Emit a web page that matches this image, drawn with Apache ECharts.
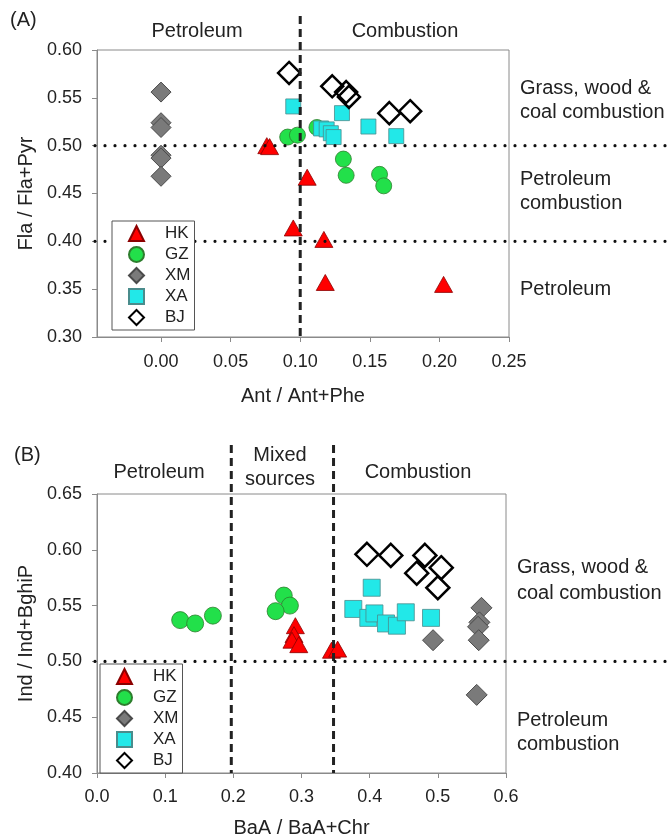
<!DOCTYPE html>
<html><head><meta charset="utf-8">
<script src="https://cdn.jsdelivr.net/npm/echarts@6/dist/echarts.min.js"></script>
<style>html,body{margin:0;padding:0;background:#fff}#c{width:667px;height:839px}</style>
</head><body><div id="c"></div>
<script>
const seriesNames = ['HK','GZ','XM','XA','BJ'];
// Panel A : Ant/Ant+Phe vs Fla/Fla+Pyr
const aHK = [[0.076,0.500],[0.078,0.499],[0.105,0.467],[0.095,0.414],[0.117,0.402],[0.118,0.357],[0.203,0.355]];
const aGZ = [[0.091,0.509],[0.098,0.511],[0.112,0.519],[0.131,0.486],[0.133,0.469],[0.157,0.470],[0.160,0.458]];
const aXM = [[0,0.556],[0,0.524],[0,0.519],[0,0.490],[0,0.487],[0,0.468]];
const aXA = [[0.095,0.541],[0.115,0.518],[0.119,0.517],[0.122,0.513],[0.124,0.509],[0.130,0.534],[0.149,0.520],[0.169,0.510]];
const aBJ = [[0.092,0.576],[0.123,0.562],[0.133,0.556],[0.135,0.551],[0.164,0.534],[0.179,0.536]];
// Panel B : BaA/BaA+Chr vs Ind/Ind+BghiP
const bHK = [[0.291,0.532],[0.289,0.524],[0.286,0.519],[0.296,0.515],[0.344,0.510],[0.353,0.511]];
const bGZ = [[0.122,0.537],[0.144,0.534],[0.170,0.541],[0.274,0.559],[0.283,0.550],[0.262,0.545]];
const bXM = [[0.493,0.519],[0.564,0.548],[0.561,0.535],[0.559,0.531],[0.560,0.519],[0.557,0.470]];
const bXA = [[0.403,0.566],[0.376,0.547],[0.398,0.539],[0.407,0.543],[0.424,0.534],[0.440,0.532],[0.453,0.544],[0.490,0.539]];
const bBJ = [[0.396,0.596],[0.431,0.595],[0.481,0.595],[0.469,0.579],[0.505,0.584],[0.500,0.566]];
// thresholds
const aVLines = [0.10];
const aHLines = [0.50, 0.40];
const bVLines = [0.197, 0.347];
const bHLines = [0.50];
// tick labels
const aXTicks = [0, 0.05, 0.10, 0.15, 0.20, 0.25];

const FONT = 'Liberation Sans, Arial, sans-serif';
const styles = {
  HK: {symbol:'triangle', color:'#FF0000', borderColor:'#8B0000', borderWidth:0.8, sizeA:[18,16], sizeB:[18,16]},
  GZ: {symbol:'circle', color:'#22E04A', borderColor:'#2D7D2D', borderWidth:0.8, sizeA:16, sizeB:17},
  XM: {symbol:'diamond', color:'#7A7A7A', borderColor:'#4A4A4A', borderWidth:1, sizeA:20, sizeB:21},
  XA: {symbol:'rect', color:'#22E8E8', borderColor:'#4A8C8C', borderWidth:0.8, sizeA:15, sizeB:17},
  BJ: {symbol:'diamond', color:'rgba(255,255,255,0)', borderColor:'#000000', borderWidth:2.5, sizeA:22, sizeB:23}
};
const dataA = {HK:aHK, GZ:aGZ, XM:aXM, XA:aXA, BJ:aBJ};
const dataB = {HK:bHK, GZ:bGZ, XM:bXM, XA:bXA, BJ:bBJ};

const axisLineStyle = {color:'#8a8a8a', width:1};
const labelStyle = {color:'#222', fontSize:18, fontFamily:FONT};
const nameStyle = {color:'#222', fontSize:20, fontFamily:FONT};

function mkSeries(panel){
  const d = panel === 0 ? dataA : dataB;
  return seriesNames.map(n => ({
    type:'scatter', name:n, xAxisIndex:panel, yAxisIndex:panel,
    data:d[n], symbol:styles[n].symbol,
    symbolSize: panel === 0 ? styles[n].sizeA : styles[n].sizeB,
    itemStyle:{color:styles[n].color, borderColor:styles[n].borderColor, borderWidth:styles[n].borderWidth, opacity:1},
    emphasis:{disabled:true}, silent:true, animation:false
  }));
}
function mkLegend(left, top){
  return {
    orient:'vertical', left:left, top:top,
    data:seriesNames.map(n => ({name:n, icon:styles[n].symbol})),
    itemWidth:15, itemHeight:15, itemGap:4, symbolKeepAspect:true,
    padding:[4,4,4,16], borderColor:'#555', borderWidth:1, backgroundColor:'#fff',
    textStyle:{fontSize:17, fontFamily:FONT, color:'#222', padding:[0,0,0,16]},
    selectedMode:false, z:200
  };
}

const chart = echarts.init(document.getElementById('c'), null, {renderer:'canvas'});
const option = {
  animation:false,
  backgroundColor:'#fff',
  grid:[
    {left:97, top:50, width:412, height:287, show:true, borderColor:'#8a8a8a', borderWidth:1, backgroundColor:'transparent'},
    {left:97, top:494, width:409, height:287, show:true, borderColor:'#8a8a8a', borderWidth:1, backgroundColor:'transparent'}
  ],
  xAxis:[
    {gridIndex:0, type:'value', min:-0.046, max:0.25,
     name:'Ant / Ant+Phe', nameLocation:'middle', nameGap:49, nameTextStyle:nameStyle,
     axisLine:{show:true, onZero:false, lineStyle:axisLineStyle},
     axisTick:{show:true, inside:false, length:5, lineStyle:axisLineStyle, customValues:aXTicks},
     axisLabel:{margin:16, ...labelStyle, customValues:aXTicks, formatter:v=>v.toFixed(2)},
     splitLine:{show:false}},
    {gridIndex:1, type:'value', min:0, max:0.6, interval:0.1,
     name:'BaA / BaA+Chr', nameLocation:'middle', nameGap:45, nameTextStyle:nameStyle,
     axisLine:{show:true, onZero:false, lineStyle:axisLineStyle},
     axisTick:{show:true, inside:false, length:5, lineStyle:axisLineStyle},
     axisLabel:{margin:15, ...labelStyle, formatter:v=>v.toFixed(1)},
     splitLine:{show:false}}
  ],
  yAxis:[
    {gridIndex:0, type:'value', min:0.30, max:0.60, interval:0.05,
     name:'Fla / Fla+Pyr', nameLocation:'middle', nameGap:53, nameTextStyle:nameStyle,
     axisLine:{show:true, onZero:false, lineStyle:axisLineStyle},
     axisTick:{show:true, inside:false, length:5, lineStyle:axisLineStyle},
     axisLabel:{margin:15, ...labelStyle, formatter:v=>v.toFixed(2)},
     splitLine:{show:false}},
    {gridIndex:1, type:'value', min:0.40, max:0.65, interval:0.05,
     name:'Ind / Ind+BghiP', nameLocation:'middle', nameGap:53, nameTextStyle:nameStyle,
     axisLine:{show:true, onZero:false, lineStyle:axisLineStyle},
     axisTick:{show:true, inside:false, length:5, lineStyle:axisLineStyle},
     axisLabel:{margin:15, ...labelStyle, formatter:v=>v.toFixed(2)},
     splitLine:{show:false}}
  ],
  legend:[mkLegend(112,221), mkLegend(100,664)],
  series:[...mkSeries(0), ...mkSeries(1)]
};
chart.setOption(option);

// reference lines and annotations, positioned through the axes
const g = [];
const dashStyle = {stroke:'#222', lineWidth:3, lineDash:[8,5]};
const dotStyle = {stroke:'#111', lineWidth:3.2, lineDash:[0,10], lineCap:'round'};
const aBottom = chart.convertToPixel({yAxisIndex:0}, 0.30);
const bBottom = chart.convertToPixel({yAxisIndex:1}, 0.40);
aVLines.forEach(v => {
  const x = chart.convertToPixel({xAxisIndex:0}, v);
  g.push({type:'line', z:100, shape:{x1:x, y1:16, x2:x, y2:aBottom}, style:dashStyle, silent:true});
});
aHLines.forEach(v => {
  const y = chart.convertToPixel({yAxisIndex:0}, v);
  g.push({type:'line', z:100, shape:{x1:95, y1:y, x2:666, y2:y}, style:dotStyle, silent:true});
});
bVLines.forEach(v => {
  const x = chart.convertToPixel({xAxisIndex:1}, v);
  g.push({type:'line', z:100, shape:{x1:x, y1:445, x2:x, y2:bBottom}, style:dashStyle, silent:true});
});
bHLines.forEach(v => {
  const y = chart.convertToPixel({yAxisIndex:1}, v);
  g.push({type:'line', z:100, shape:{x1:95, y1:y, x2:666, y2:y}, style:dotStyle, silent:true});
});
function txt(s, x, y, align){
  g.push({type:'text', z:110, x:x, y:y, silent:true,
    style:{text:s, fill:'#222', font:'20px ' + FONT, textAlign:align || 'left', textVerticalAlign:'middle'}});
}
txt('(A)', 10, 20);
txt('Petroleum', 197, 31, 'center');
txt('Combustion', 405, 31, 'center');
txt('Grass, wood &', 520, 88);
txt('coal combustion', 520, 112);
txt('Petroleum', 520, 179);
txt('combustion', 520, 203);
txt('Petroleum', 520, 289);
txt('(B)', 14, 455);
txt('Petroleum', 159, 472, 'center');
txt('Mixed', 280, 455, 'center');
txt('sources', 280, 479, 'center');
txt('Combustion', 418, 472, 'center');
txt('Grass, wood &', 517, 567);
txt('coal combustion', 517, 593);
txt('Petroleum', 517, 720);
txt('combustion', 517, 744);
chart.setOption({graphic:g});
</script></body></html>
